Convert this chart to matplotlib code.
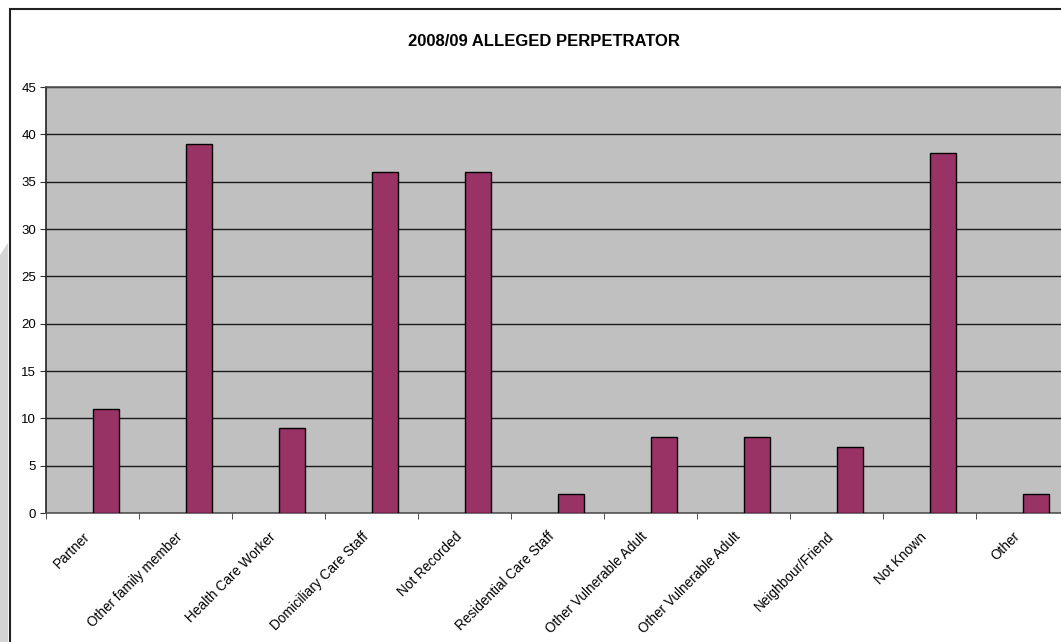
import numpy as np
import matplotlib.pyplot as plt
from matplotlib.patches import Rectangle, Polygon
from matplotlib.transforms import ScaledTranslation

plt.rcParams['font.family'] = ['Liberation Sans', 'DejaVu Sans']

categories = ["Partner", "Other family member", "Health Care Worker",
              "Domiciliary Care Staff", "Not Recorded", "Residential Care Staff",
              "Other Vulnerable Adult", "Other Vulnerable Adult", "Neighbour/Friend",
              "Not Known", "Other"]
counts = [11, 39, 9, 36, 36, 2, 8, 8, 7, 38, 2]
y_ticks = [0, 5, 10, 15, 20, 25, 30, 35, 40, 45]

W, H = 1061, 642
fig = plt.figure(figsize=(W / 100, H / 100), dpi=100)

# left shadow strip and chart frame (Excel style)
fig.patches.append(Polygon([(0, 0), (8 / W, 0), (8 / W, 1 - 243 / H), (0, 1 - 255 / H)],
                           closed=True, transform=fig.transFigure,
                           facecolor='#d4d4d4', edgecolor='none', zorder=0))
fig.patches.append(Rectangle((9.5 / W, -0.1), 1.2, 1.1 - 8.5 / H,
                             transform=fig.transFigure, facecolor='none',
                             edgecolor='#222222', linewidth=1.5, zorder=1))

ax = fig.add_axes([46 / W, (H - 513) / H, (1069 - 46) / W, 426 / H])
ax.set_facecolor('#c0c0c0')

x = np.arange(len(categories))
ax.bar(x + 0.15, counts, width=0.28, color='#993366', edgecolor='black',
       linewidth=1, zorder=3)

ax.set_xlim(-0.5, len(categories) - 0.5)
ax.set_ylim(0, 45)
ax.set_yticks(y_ticks)
ax.yaxis.grid(True, color='#1a1a1a', linewidth=1)
ax.set_axisbelow(True)

ax.set_xticks(x)
ax.set_xticklabels(categories, rotation=45, ha='right', va='top',
                   rotation_mode='anchor', fontsize=9.8)
ax.tick_params(axis='x', which='major', length=0, pad=12)
ax.set_xticks(np.arange(-0.5, len(categories), 1), minor=True)
ax.tick_params(axis='x', which='minor', length=4, direction='out', color='#333333')
ax.tick_params(axis='y', length=4, direction='out', labelsize=9.5, pad=3, color='#333333')

# Excel puts the end of each rotated label a little left of the category centre
shift = ScaledTranslation(-10 / 100, 0, fig.dpi_scale_trans)
for lbl in ax.get_xticklabels():
    lbl.set_transform(lbl.get_transform() + shift)

for side in ['left', 'bottom', 'top']:
    ax.spines[side].set_color('#555555')
    ax.spines[side].set_linewidth(1.2)
ax.spines['left'].set_color('#222222')
ax.spines['right'].set_visible(False)

fig.text(544 / W, 1 - 42 / H, "2008/09 ALLEGED PERPETRATOR", ha='center', va='center',
         fontsize=12, fontweight='bold')

fig.savefig('out.png', dpi=100)
